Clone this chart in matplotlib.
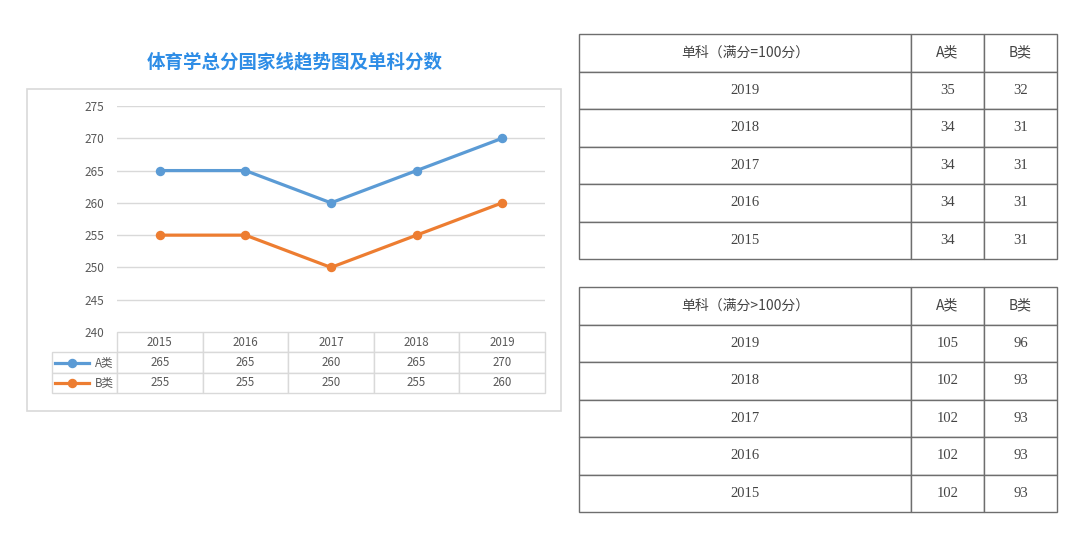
import matplotlib
matplotlib.use("Agg")
import matplotlib.pyplot as plt
from matplotlib.lines import Line2D
from matplotlib.patches import Rectangle

plt.rcParams['font.family'] = ['Noto Sans CJK SC', 'DejaVu Sans']

# ---------------- data ----------------
years = ["2015", "2016", "2017", "2018", "2019"]
series_names = ["A类", "B类"]
total_a = [265, 265, 260, 265, 270]
total_b = [255, 255, 250, 255, 260]
yticks = [240, 245, 250, 255, 260, 265, 270, 275]

title = "体育学总分国家线趋势图及单科分数"

t1_header = ["单科（满分=100分）", "A类", "B类"]
t1_years = ["2019", "2018", "2017", "2016", "2015"]
t1_a = [35, 34, 34, 34, 34]
t1_b = [32, 31, 31, 31, 31]

t2_header = ["单科（满分>100分）", "A类", "B类"]
t2_years = ["2019", "2018", "2017", "2016", "2015"]
t2_a = [105, 102, 102, 102, 102]
t2_b = [96, 93, 93, 93, 93]

colors = ["#5B9BD5", "#ED7D31"]

# ---------------- layout helpers ----------------
W, H = 1080, 537
fig = plt.figure(figsize=(W / 100, H / 100), dpi=100)


def rect(x0, y0, x1, y1):
    return [x0 / W, 1 - y1 / H, (x1 - x0) / W, (y1 - y0) / H]


# chart frame
fig.patches.append(Rectangle((27 / W, 1 - 411 / H), (561 - 27) / W, (411 - 89) / H,
                             transform=fig.transFigure, fill=False,
                             edgecolor="#D9D9D9", linewidth=1.2))

fig.text(295 / W, 1 - 62 / H, title, ha="center", va="center",
         fontsize=13.3, fontweight="bold", color="#2E8DE6")

# ---------------- line chart ----------------
ax = fig.add_axes(rect(117, 106, 545, 332))
x = list(range(len(years)))
for vals, c in zip([total_a, total_b], colors):
    ax.plot(x, vals, color=c, linewidth=2.3, marker="o", markersize=5.8, zorder=3)
ax.set_xlim(-0.5, len(years) - 0.5)
ax.set_ylim(240, 275)
ax.set_yticks(yticks)
ax.set_yticklabels([str(v) for v in yticks])
ax.set_xticks([])
for s in ax.spines.values():
    s.set_visible(False)
ax.tick_params(axis="y", length=0, pad=9, labelsize=8.5, labelcolor="#595959")
for v in yticks[1:]:
    ax.axhline(v, color="#D9D9D9", linewidth=1, zorder=1)

# data table under chart
tax = fig.add_axes(rect(52, 332, 545, 393))
tax.axis("off")
cell_text = [[""] + years,
             [series_names[0]] + [str(v) for v in total_a],
             [series_names[1]] + [str(v) for v in total_b]]
cw = [65] + [85.6] * 5
tot = sum(cw)
tbl = tax.table(cellText=cell_text, cellLoc="center", bbox=[0, 0, 1, 1],
                colWidths=[c / tot for c in cw])
tbl.auto_set_font_size(False)
for (r, c), cell in tbl.get_celld().items():
    cell.set_edgecolor("#D9D9D9")
    cell.set_linewidth(1)
    cell.get_text().set_fontsize(8.3)
    cell.get_text().set_color("#595959")
    if r == 0 and c == 0:
        cell.visible_edges = ""
    if c == 0 and r > 0:
        cell.get_text().set_ha("right")
        cell._loc = "right"
        cell.PAD = 0.05

# legend keys
for i, c in enumerate(colors):
    yc = 1 - (363 + 20 * i) / H
    fig.lines.append(Line2D([55 / W, 89 / W], [yc, yc], transform=fig.transFigure,
                            color=c, linewidth=2.3))
    fig.lines.append(Line2D([72 / W], [yc], transform=fig.transFigure, color=c,
                            marker="o", markersize=5.8))

# ---------------- right tables ----------------
def draw_table(y0, y1, header, yrs, a, b):
    axt = fig.add_axes(rect(579, y0, 1057, y1))
    axt.axis("off")
    rows = [header] + [[yy, str(va), str(vb)] for yy, va, vb in zip(yrs, a, b)]
    widths = [332, 73, 73]
    s = sum(widths)
    t = axt.table(cellText=rows, cellLoc="center", bbox=[0, 0, 1, 1],
                  colWidths=[w / s for w in widths])
    t.auto_set_font_size(False)
    for (r, c), cell in t.get_celld().items():
        cell.set_edgecolor("#6E6E6E")
        cell.set_linewidth(1)
        txt = cell.get_text()
        txt.set_color("#444444")
        if r == 0:
            txt.set_fontsize(10)
            txt.set_fontfamily(["Noto Sans CJK SC", "DejaVu Sans"])
        else:
            txt.set_fontsize(10.5)
            txt.set_fontfamily(["Liberation Serif", "Noto Sans CJK SC"])


draw_table(34, 259, t1_header, t1_years, t1_a, t1_b)
draw_table(287, 512, t2_header, t2_years, t2_a, t2_b)

fig.savefig("out.png", dpi=100)
